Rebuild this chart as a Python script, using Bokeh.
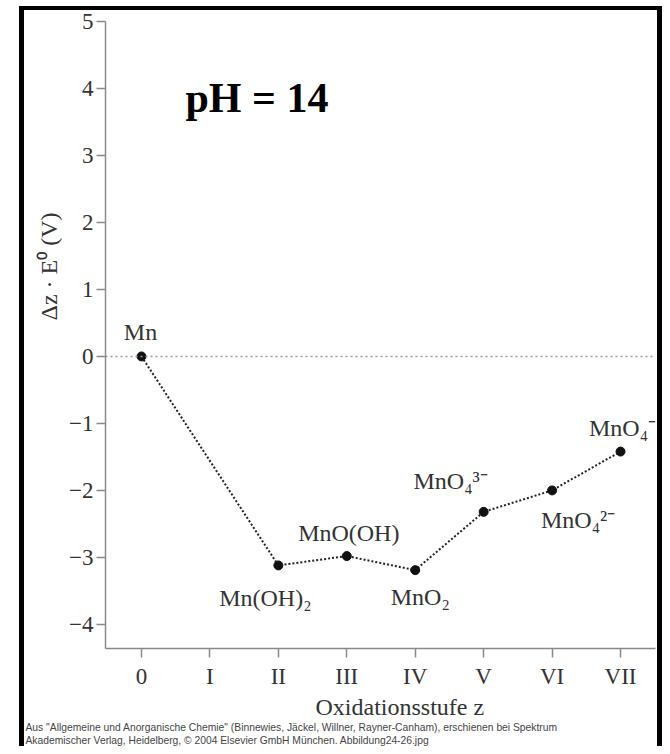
from bokeh.plotting import figure
from bokeh.models import (ColumnDataSource, FixedTicker, Span, Label, LabelSet,
                          Range1d, Title, InlineStyleSheet)
from bokeh.embed import file_html
from bokeh.resources import INLINE

# ---- data ----
oxidation_states = [0, 2, 3, 4, 5, 6, 7]
energies = [0.0, -3.12, -2.98, -3.19, -2.32, -2.0, -1.42]
species = ["Mn", "Mn(OH)₂", "MnO(OH)", "MnO₂", "MnO₄³⁻", "MnO₄²⁻", "MnO₄⁻"]

x_tick_values = [0, 1, 2, 3, 4, 5, 6, 7]
x_tick_labels = ["0", "I", "II", "III", "IV", "V", "VI", "VII"]
y_tick_values = [-4, -3, -2, -1, 0, 1, 2, 3, 4, 5]
y_tick_labels = ["−4", "−3", "−2", "−1", "0", "1", "2", "3", "4", "5"]

title_text = "pH = 14"
x_title = "Oxidationsstufe z"
y_title = "Δz · E⁰ (V)"
footnote_1 = ('Aus "Allgemeine und Anorganische Chemie" (Binnewies, Jäckel, Willner, '
              'Rayner-Canham), erschienen bei Spektrum')
footnote_2 = "Akademischer Verlag, Heidelberg, © 2004 Elsevier GmbH München. Abbildung24-26.jpg"

# ---- label offsets (pixels, positive = right / up) ----
label_dx = [-1, -13, 2, 5, -33, 26, 2]
label_dy = [24, -33, 23, -27, 31, -30, 24]

SERIF = "Liberation Serif"
TXT = "#333333"
AX = "#8a8a8a"

FL, FT, FW, FH = 105, 21, 550, 627   # frame placement in pixels
x0, x1 = -0.526, 7.511
y0, y1 = -4.36, 5.0

border_css = InlineStyleSheet(css="""
:host { position: relative; }
:host::after {
  content: "";
  position: absolute;
  left: 19px; top: 6px;
  width: calc(100% - 19px); height: calc(100% - 6px);
  box-sizing: border-box;
  border-left: 5px solid #000; border-top: 4px solid #000; border-right: 5px solid #000;
  pointer-events: none; z-index: 10;
}
""")

p = figure(frame_width=FW, frame_height=FH,
           min_border_left=FL, min_border_right=662 - FL - FW,
           min_border_top=FT, min_border_bottom=746 - FT - FH,
           x_range=Range1d(x0, x1), y_range=Range1d(y0, y1),
           output_backend="svg", toolbar_location=None,
           background_fill_color="white", border_fill_color="white",
           stylesheets=[border_css])
p.outline_line_color = None
p.grid.visible = False

for ax in (p.xaxis[0], p.yaxis[0]):
    ax.axis_line_color = AX
    ax.axis_line_width = 1.5
    ax.major_tick_line_color = AX
    ax.major_tick_line_width = 1.5
    ax.major_tick_out = 9
    ax.major_tick_in = 0
    ax.minor_tick_line_color = None
    ax.major_label_text_font = SERIF
    ax.major_label_text_font_size = "23px"
    ax.major_label_text_color = TXT

p.xaxis[0].ticker = FixedTicker(ticks=x_tick_values)
p.xaxis[0].major_label_overrides = {v: l for v, l in zip(x_tick_values, x_tick_labels)}
p.xaxis[0].major_label_standoff = 6
p.yaxis[0].ticker = FixedTicker(ticks=y_tick_values)
p.yaxis[0].major_label_overrides = {v: l for v, l in zip(y_tick_values, y_tick_labels)}
p.yaxis[0].major_label_standoff = 3

# zero reference line
p.add_layout(Span(location=0, dimension="width", line_color="#9a9a9a",
                  line_dash="2 3", line_width=1.5))

src = ColumnDataSource(dict(x=oxidation_states, y=energies, name=species,
                            dx=label_dx, dy=label_dy))
p.line("x", "y", source=src, line_color="#222222", line_width=2, line_dash="2 2")
p.scatter("x", "y", source=src, size=9, fill_color="#111111", line_color="#111111")

p.add_layout(LabelSet(x="x", y="y", text="name", source=src,
                      x_offset="dx", y_offset="dy",
                      text_align="center", text_baseline="middle",
                      text_font=SERIF, text_font_size="24px", text_color=TXT))

px_x = FW / (x1 - x0)
px_y = FH / (y1 - y0)

def sx(page_x):
    return x0 + (page_x - FL) / px_x

def sy(page_y):
    return y1 - (page_y - FT) / px_y

# title inside the plot
p.add_layout(Label(x=sx(185), y=sy(97), text=title_text, text_font=SERIF,
                   text_font_style="bold", text_font_size="42px",
                   text_color="black", text_align="left", text_baseline="middle"))

# axis titles (side panels)
p.add_layout(Title(text=x_title, align="left", offset=315 - FL, standoff=0,
                   text_font=SERIF, text_font_size="24px", text_font_style="normal",
                   text_color=TXT), "below")
p.add_layout(Title(text=y_title, align="left", offset=FT + FH - 320, standoff=10,
                   text_font=SERIF, text_font_size="24px", text_font_style="normal",
                   text_color=TXT), "left")

# footnote
for line in (footnote_1, footnote_2):
    p.add_layout(Title(text=line, align="left", offset=25 - FL, standoff=0,
                       text_font="Liberation Sans", text_font_size="10.3px",
                       text_font_style="normal", text_color="#444444"), "below")

open("out.html", "w").write(file_html(p, INLINE))
